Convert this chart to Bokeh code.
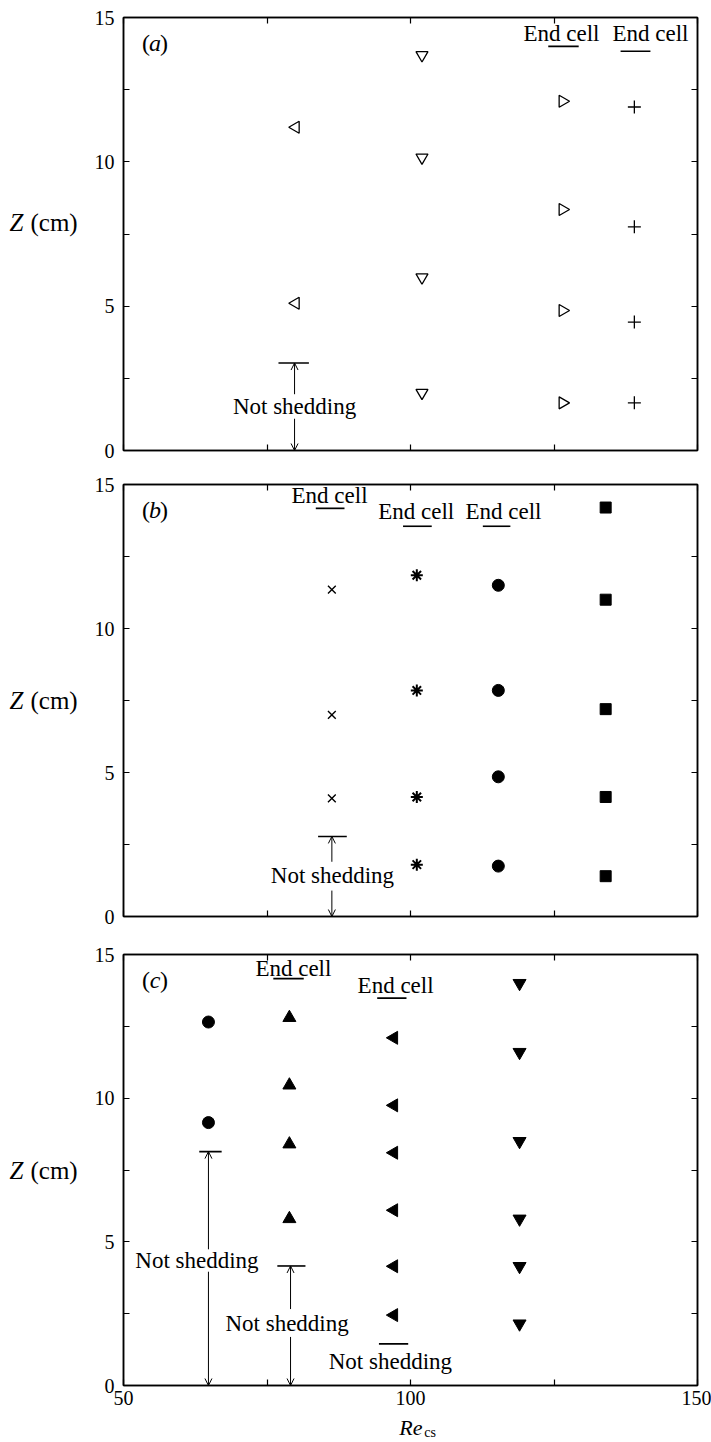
import math

from bokeh.core.properties import value
from bokeh.embed import file_html
from bokeh.layouts import column, row
from bokeh.models import Arrow, FixedTicker, LinearAxis, OpenHead, Range1d
from bokeh.plotting import figure
from bokeh.resources import INLINE

SERIF = "'Liberation Serif', 'Times New Roman', serif"

# ---------------------------------------------------------------------------
# Cell positions Z (cm) measured along the cylinder for each Reynolds number
# ---------------------------------------------------------------------------
# (a)
a1_re = 80.0
a1_z = [11.2, 5.1]
a2_re = 102.0
a2_z = [13.7, 10.15, 6.0, 2.0]
a3_re = 126.5
a3_z = [12.1, 8.35, 4.85, 1.65]
a4_re = 139.0
a4_z = [11.9, 7.75, 4.45, 1.65]

# (b)
b1_re = 86.3
b1_z = [11.35, 7.0, 4.1]
b2_re = 101.1
b2_z = [11.85, 7.85, 4.15, 1.8]
b3_re = 115.3
b3_z = [11.5, 7.85, 4.85, 1.75]
b4_re = 134.0
b4_z = [14.2, 11.0, 7.2, 4.15, 1.4]

# (c)
c1_re = 64.8
c1_z = [12.65, 9.15]
c2_re = 78.9
c2_z = [12.8, 10.45, 8.4, 5.8]
c3_re = 97.1
c3_z = [12.1, 9.75, 8.1, 6.1, 4.15, 2.45]
c4_re = 119.0
c4_z = [14.0, 11.6, 8.5, 5.8, 4.15, 2.15]

# axis ticks
x_major = [50, 100, 150]
x_minor = [75, 125]
y_major = [0, 5, 10, 15]
y_minor = [2.5, 7.5, 12.5]

FONT_PX = "23px"
TICK_PX = "20px"

PAGE_W, PAGE_H = 711, 1442
LABEL_COL_W = 90            # column that carries the "Z (cm)" titles
PANEL_W = PAGE_W - LABEL_COL_W
BORDER_L, BORDER_R = 33, 14

# (height, top border, bottom border) of each panel
PANEL_A = (467, 17, 17)
PANEL_B = (469, 17, 20)
PANEL_C = (478, 18, 29)
STRIP_H = PAGE_H - PANEL_A[0] - PANEL_B[0] - PANEL_C[0]


def styled_axis(ax, ticks, minor, show_labels, standoff=9):
    ax.ticker = FixedTicker(ticks=ticks, minor_ticks=minor)
    ax.axis_line_color = "black"
    ax.axis_line_width = 1.5
    ax.major_tick_line_color = "black"
    ax.minor_tick_line_color = "black"
    ax.major_tick_line_width = 1.2
    ax.minor_tick_line_width = 1.2
    ax.major_tick_in = 6
    ax.major_tick_out = 0
    ax.minor_tick_in = 6
    ax.minor_tick_out = 0
    ax.major_label_text_font = SERIF
    ax.major_label_text_color = "black"
    if show_labels:
        ax.major_label_text_font_size = TICK_PX
        ax.major_label_standoff = standoff
    else:
        ax.major_label_overrides = {t: "" for t in ticks}
        ax.major_label_text_font_size = "0px"
        ax.major_label_standoff = 0
    return ax


def make_panel(dims, x_labels, x_range=None):
    height, top, bottom = dims
    p = figure(width=PANEL_W, height=height,
               x_range=x_range or Range1d(50, 150), y_range=Range1d(0, 15),
               x_axis_location=None, y_axis_location=None,
               output_backend="svg", toolbar_location=None,
               min_border_left=BORDER_L, min_border_right=BORDER_R,
               min_border_top=top, min_border_bottom=bottom)
    p.grid.visible = False
    p.outline_line_color = "black"
    p.outline_line_width = 1.5
    p.background_fill_color = "white"
    p.border_fill_color = "white"
    p.add_layout(styled_axis(LinearAxis(), y_major, y_minor, True, 9), "left")
    p.add_layout(styled_axis(LinearAxis(), y_major, y_minor, False), "right")
    p.add_layout(styled_axis(LinearAxis(), x_major, x_minor, x_labels, 5), "below")
    p.add_layout(styled_axis(LinearAxis(), x_major, x_minor, False), "above")
    return p


def words(p, x, y, text, size=FONT_PX, style="normal", align="center", baseline="middle"):
    p.text(x=[x], y=[y], text=[text], text_font=value(SERIF),
           text_font_size=size, text_font_style=style,
           text_align=align, text_baseline=baseline, text_color="black")


def end_cell(p, x, y, bar_x0, bar_x1, bar_y):
    words(p, x, y, "End cell")
    p.segment(x0=[bar_x0], y0=[bar_y], x1=[bar_x1], y1=[bar_y],
              line_color="black", line_width=1.6)


def not_shedding(p, arrow_x, bar_x0, bar_x1, bar_y, text_x, text_y, up_from=None, down_from=None):
    p.segment(x0=[bar_x0], y0=[bar_y], x1=[bar_x1], y1=[bar_y],
              line_color="black", line_width=1.6)
    words(p, text_x, text_y, "Not shedding")
    if up_from is not None:
        p.add_layout(Arrow(x_start=arrow_x, y_start=up_from, x_end=arrow_x, y_end=bar_y,
                           line_width=1, line_color="black",
                           end=OpenHead(size=7, line_width=1, line_color="black")))
    if down_from is not None:
        p.add_layout(Arrow(x_start=arrow_x, y_start=down_from, x_end=arrow_x, y_end=0,
                           line_width=1, line_color="black",
                           end=OpenHead(size=7, line_width=1, line_color="black")))


def panel_tag(p, letter):
    p.text(x=[55.5, 55.5, 55.5], y=[14.1, 14.1, 14.1], text=["(", letter, ")"],
           x_offset=[-9, 0, 9], text_font=value(SERIF), text_font_size="24px",
           text_font_style=["normal", "italic", "normal"],
           text_align="center", text_baseline="middle", text_color="black")


def open_marks(p, re, z, marker, angle=0.0, size=11, width=1.3):
    p.scatter(x=[re] * len(z), y=z, marker=marker, size=size, angle=angle,
              fill_color=None, line_color="black", line_width=width)


def solid_marks(p, re, z, marker, angle=0.0, size=11):
    p.scatter(x=[re] * len(z), y=z, marker=marker, size=size, angle=angle,
              fill_color="black", line_color="black", line_width=1)


# ---------------------------------------------------------------- panel (a)
pa = make_panel(PANEL_A, False)
open_marks(pa, a1_re, a1_z, "triangle", angle=math.pi / 2, size=12)
open_marks(pa, a2_re, a2_z, "inverted_triangle", size=12)
open_marks(pa, a3_re, a3_z, "triangle", angle=-math.pi / 2, size=12)
open_marks(pa, a4_re, a4_z, "cross", size=13)
end_cell(pa, 126.3, 14.45, 124.0, 129.3, 14.0)
end_cell(pa, 141.8, 14.45, 136.6, 141.8, 13.83)
not_shedding(pa, 79.8, 77.0, 82.3, 3.03, 79.8, 1.53, up_from=1.95, down_from=1.1)
panel_tag(pa, "a")

# ---------------------------------------------------------------- panel (b)
pb = make_panel(PANEL_B, False, pa.x_range)
open_marks(pb, b1_re, b1_z, "x", size=11, width=1.4)
open_marks(pb, b2_re, b2_z, "asterisk", size=12, width=2)
solid_marks(pb, b3_re, b3_z, "circle", size=12)
solid_marks(pb, b4_re, b4_z, "square", size=11)
end_cell(pb, 85.9, 14.62, 83.5, 88.5, 14.17)
end_cell(pb, 101.0, 14.05, 98.7, 103.7, 13.55)
end_cell(pb, 116.2, 14.05, 112.6, 117.4, 13.55)
not_shedding(pb, 86.3, 83.9, 88.9, 2.78, 86.4, 1.43, up_from=1.9, down_from=0.9)
panel_tag(pb, "b")

# ---------------------------------------------------------------- panel (c)
pc = make_panel(PANEL_C, True, pa.x_range)
solid_marks(pc, c1_re, c1_z, "circle", size=12)
solid_marks(pc, c2_re, c2_z, "triangle", size=13)
solid_marks(pc, c3_re, c3_z, "triangle", angle=math.pi / 2, size=13)
solid_marks(pc, c4_re, c4_z, "inverted_triangle", size=13)
end_cell(pc, 79.6, 14.52, 76.1, 81.4, 14.16)
end_cell(pc, 97.4, 13.92, 94.2, 99.3, 13.48)
not_shedding(pc, 64.8, 63.2, 67.1, 8.14, 62.8, 4.35, up_from=4.74, down_from=3.96)
not_shedding(pc, 79.1, 76.8, 81.7, 4.16, 78.5, 2.17, up_from=2.66, down_from=1.69)
not_shedding(pc, 96.5, 94.5, 99.6, 1.45, 96.5, 0.84)
panel_tag(pc, "c")

# ------------------------------------------------ x-axis title strip (Re_cs)
strip = figure(width=PANEL_W, height=STRIP_H, x_range=pa.x_range, y_range=Range1d(0, 1),
               x_axis_location=None, y_axis_location=None,
               output_backend="svg", toolbar_location=None,
               min_border_left=BORDER_L, min_border_right=BORDER_R,
               min_border_top=0, min_border_bottom=0)
strip.grid.visible = False
strip.outline_line_color = None
words(strip, 102.1, 0.52, "Re", size="22px", style="italic", align="right")
words(strip, 102.4, 0.36, "cs", size="14px", align="left")

# ------------------------------------------- y-axis titles, one per panel
# this column is laid out in page pixels (y downwards)
ylab = figure(width=LABEL_COL_W, height=PAGE_H, x_range=Range1d(0, LABEL_COL_W),
              y_range=Range1d(PAGE_H, 0), x_axis_location=None, y_axis_location=None,
              output_backend="svg", toolbar_location=None,
              min_border_left=0, min_border_right=0, min_border_top=0, min_border_bottom=0)
ylab.grid.visible = False
ylab.outline_line_color = None


def frame_y(panel_offset, dims, z):
    height, top, bottom = dims
    frame_h = height - top - bottom
    return panel_offset + top + frame_h * (1 - z / 15.0)


offsets = [0, PANEL_A[0], PANEL_A[0] + PANEL_B[0]]
title_z = [7.9, 7.5, 7.47]
for off, dims, z in zip(offsets, [PANEL_A, PANEL_B, PANEL_C], title_z):
    yy = frame_y(off, dims, z)
    words(ylab, 9, yy, "Z", size="25px", style="italic", align="left")
    words(ylab, 30, yy, "(cm)", size="25px", align="left")

page = row(ylab, column(pa, pb, pc, strip, spacing=0), spacing=0)
open("out.html", "w").write(file_html(page, INLINE))
